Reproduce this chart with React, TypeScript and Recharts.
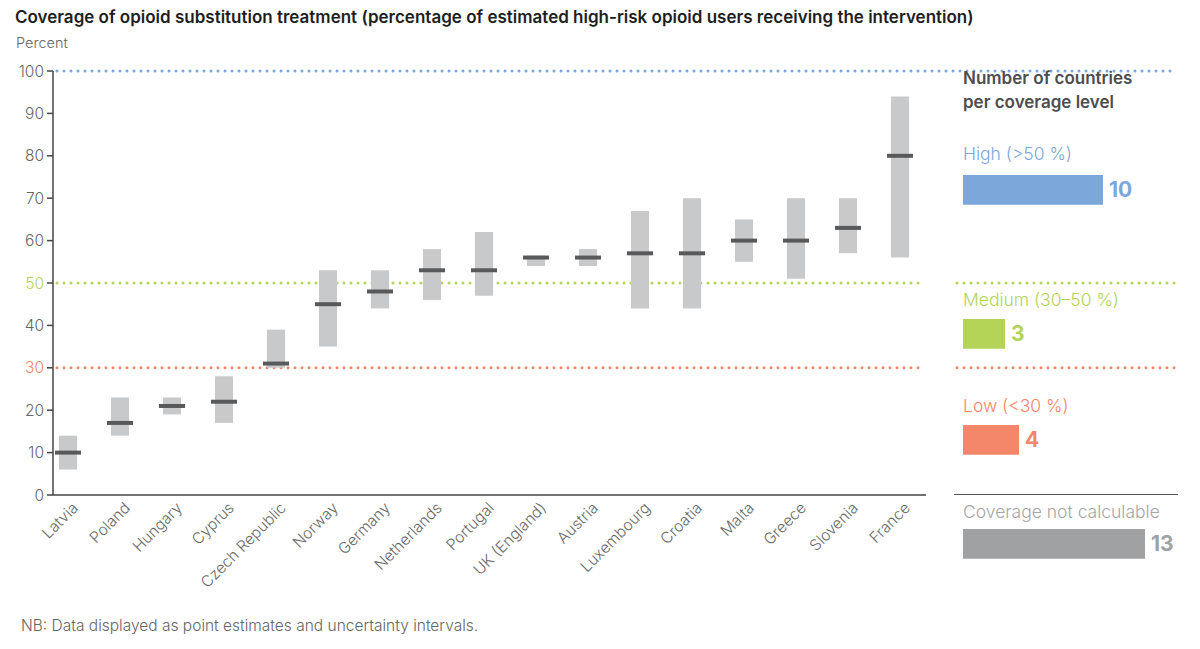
import React from 'react';
import {
  ComposedChart,
  BarChart,
  Bar,
  Scatter,
  XAxis,
  YAxis,
  ReferenceLine,
  LabelList,
} from 'recharts';

const countries = [
  'Latvia', 'Poland', 'Hungary', 'Cyprus', 'Czech Republic', 'Norway', 'Germany',
  'Netherlands', 'Portugal', 'UK (England)', 'Austria', 'Luxembourg', 'Croatia',
  'Malta', 'Greece', 'Slovenia', 'France',
];
const lowValues = [6, 14, 19, 17, 30, 35, 44, 46, 47, 54, 54, 44, 44, 55, 51, 57, 56];
const highValues = [14, 23, 23, 28, 39, 53, 53, 58, 62, 56.5, 58, 67, 70, 65, 70, 70, 94];
const pointValues = [10, 17, 21, 22, 31, 45, 48, 53, 53, 56, 56, 57, 57, 60, 60, 63, 80];
const yTicks = [0, 10, 20, 30, 40, 50, 60, 70, 80, 90, 100];

const levelNames = ['High (>50 %)', 'Medium (30–50 %)', 'Low (<30 %)', 'Coverage not calculable'];
const levelCounts = [10, 3, 4, 13];

const BLUE = '#7ba7da';
const GREEN = '#b3d457';
const RED = '#f4866a';
const GREY = '#a0a1a3';
const FONT = 'Inter, Roboto, "Noto Sans", sans-serif';

const levelStyles = [
  { color: BLUE, labelTop: 143, barTop: 173 },
  { color: GREEN, labelTop: 289, barTop: 317 },
  { color: RED, labelTop: 395, barTop: 423 },
  { color: GREY, labelTop: 501, barTop: 527 },
];

const chartData = countries.map((country, i) => ({
  country,
  range: [lowValues[i], highValues[i]],
  point: pointValues[i],
}));

const YTick = (props: any) => {
  const { x, y, payload } = props;
  const v = payload.value;
  const fill = v === 50 ? GREEN : v === 30 ? RED : '#666';
  return (
    <text x={x} y={y} dy={5.5} textAnchor="end" fill={fill} fontSize={15.5} fontFamily={FONT} fontWeight={300}>
      {v}
    </text>
  );
};

const XTick = (props: any) => {
  const { x, y, payload } = props;
  const tx = x + 11;
  const ty = y + 6;
  return (
    <text
      x={tx}
      y={ty}
      textAnchor="end"
      fill="#6a6a6a"
      fontSize={15.5}
      fontFamily={FONT}
      fontWeight={300}
      transform={`rotate(-45, ${tx}, ${ty})`}
    >
      {payload.value}
    </text>
  );
};

const Dash = (props: any) => {
  const { cx, cy } = props;
  return <rect x={cx - 13} y={cy - 2} width={26} height={4} fill="#58595b" />;
};

// dotted threshold line, optionally continued into the side panel
const dottedLine = (color: string, gapFrom: number | null, endX: number) => (props: any) => {
  const { x1, y1, x2 } = props;
  const common = {
    stroke: color,
    strokeWidth: 3,
    strokeDasharray: '0 7',
    strokeLinecap: 'round' as const,
  };
  if (gapFrom === null) {
    return <line x1={x1 + 4} y1={y1} x2={endX} y2={y1} {...common} />;
  }
  return (
    <g>
      <line x1={x1 + 4} y1={y1} x2={x2 - 2} y2={y1} {...common} />
      <line x1={gapFrom} y1={y1} x2={endX} y2={y1} {...common} />
    </g>
  );
};

const LevelBar = ({ i }: { i: number }) => {
  const st = levelStyles[i];
  const data = [{ name: levelNames[i], value: levelCounts[i] }];
  return (
    <div style={{ position: 'absolute', left: 963, top: st.barTop, width: 238, height: 33 }}>
      <BarChart width={238} height={33} data={data} layout="vertical" margin={{ top: 0, right: 0, bottom: 0, left: 0 }}
        barCategoryGap={0}>
        <XAxis type="number" domain={[0, 17]} hide />
        <YAxis type="category" dataKey="name" hide />
        <Bar dataKey="value" fill={st.color} barSize={33} isAnimationActive={false}>
          <LabelList
            dataKey="value"
            position="right"
            offset={6}
            fill={st.color}
            fontSize={21}
            fontWeight={700}
            fontFamily={FONT}
          />
        </Bar>
      </BarChart>
    </div>
  );
};

export default function App() {
  return (
    <div
      style={{
        position: 'absolute',
        left: 0,
        top: 0,
        width: 1200,
        height: 649,
        background: '#fff',
        fontFamily: FONT,
        overflow: 'hidden',
      }}
    >
      <ComposedChart
        width={1200}
        height={649}
        data={chartData}
        margin={{ top: 71, right: 274, bottom: 0, left: 0 }}
      >
        <ReferenceLine y={100} stroke={BLUE} shape={dottedLine(BLUE, null, 1174)} zIndex={50} />
        <ReferenceLine y={50} stroke={GREEN} shape={dottedLine(GREEN, 957, 1180)} zIndex={50} />
        <ReferenceLine y={30} stroke={RED} shape={dottedLine(RED, 957, 1180)} zIndex={50} />
        <XAxis
          dataKey="country"
          interval={0}
          height={154}
          padding={{ left: -11, right: 0 }}
          tickLine={false}
          axisLine={{ stroke: '#444', strokeWidth: 1.5 }}
          tick={<XTick />}
        />
        <YAxis
          width={53}
          domain={[0, 100]}
          ticks={yTicks}
          interval={0}
          tickSize={6}
          tickMargin={3}
          axisLine={{ stroke: '#444', strokeWidth: 1.5 }}
          tickLine={{ stroke: '#444', strokeWidth: 1.5 }}
          tick={<YTick />}
        />
        <Bar dataKey="range" barSize={18} fill="#c8c9cb" isAnimationActive={false} />
        <Scatter dataKey="point" shape={<Dash />} isAnimationActive={false} />
      </ComposedChart>

      <div style={{ position: 'absolute', left: 15, top: 7, fontSize: 17, fontWeight: 600, color: '#1e1e1e', whiteSpace: 'nowrap' }}>
        Coverage of opioid substitution treatment (percentage of estimated high-risk opioid users receiving the intervention)
      </div>
      <div style={{ position: 'absolute', left: 16, top: 34, fontSize: 14.5, fontWeight: 300, color: '#666' }}>Percent</div>

      <div style={{ position: 'absolute', left: 963, top: 66, fontSize: 17, fontWeight: 600, color: '#4d4d4f', lineHeight: '24px' }}>
        Number of countries
        <br />
        per coverage level
      </div>

      {levelNames.map((name, i) => (
        <div
          key={name}
          style={{
            position: 'absolute',
            left: 963,
            top: levelStyles[i].labelTop,
            fontSize: 17.5,
            fontWeight: 300,
            color: i === 3 ? '#a6a6a8' : levelStyles[i].color,
            whiteSpace: 'nowrap',
          }}
        >
          {name}
        </div>
      ))}
      <div style={{ position: 'absolute', left: 954, top: 494, width: 224, height: 0, borderTop: '1px solid #555' }} />

      {levelNames.map((name, i) => (
        <LevelBar key={name} i={i} />
      ))}

      <div style={{ position: 'absolute', left: 21, top: 616, fontSize: 15.5, fontWeight: 300, color: '#666' }}>
        NB: Data displayed as point estimates and uncertainty intervals.
      </div>
    </div>
  );
}
